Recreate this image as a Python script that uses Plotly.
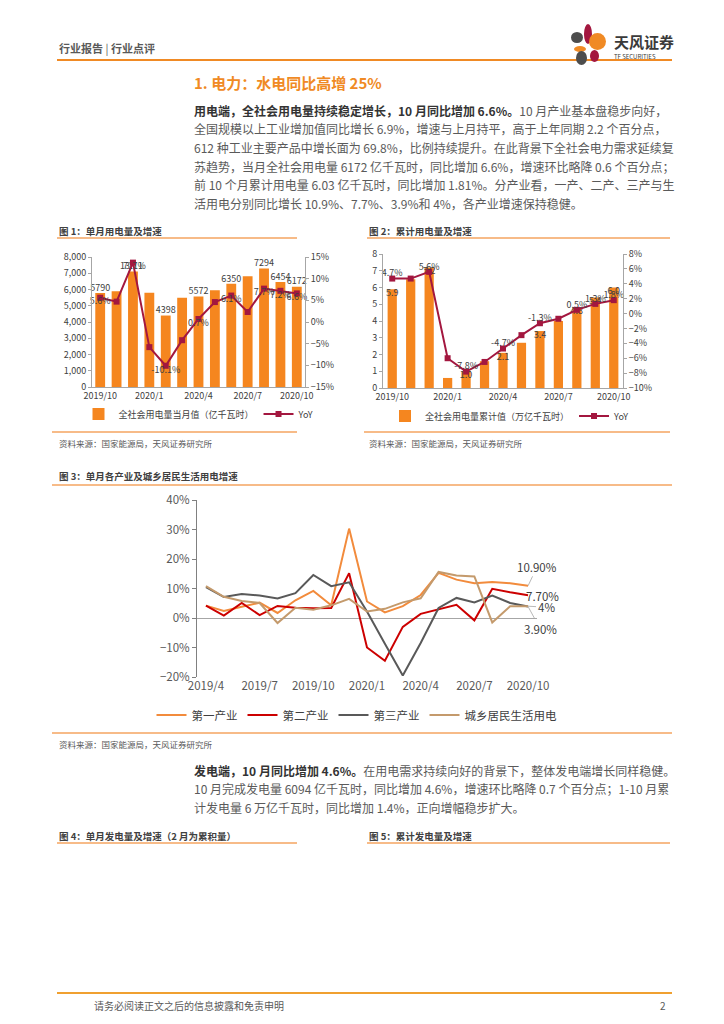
import plotly.graph_objects as go

W, H = 724, 1024
FONT = "Noto Sans CJK SC"
OFF = 8  # page body margin of the rendered html


def px(x):
    return (x - OFF) / W


def py(y):
    return 1 - (y - OFF) / H


# ---------------- data ----------------
# Figure 1: monthly electricity consumption
months1 = ["2019/10", "2019/11", "2019/12", "2020/1", "2020/2", "2020/3", "2020/4",
           "2020/5", "2020/6", "2020/7", "2020/8", "2020/9", "2020/10"]
monthly_use = [5790, 5900, 7111, 5800, 4398, 5500, 5572, 5950, 6350, 6820, 7294, 6454, 6172]
monthly_yoy = [5.6, 4.7, 13.7, -5.8, -10.1, -4.2, 0.7, 4.6, 6.1, 2.3, 7.7, 7.2, 6.6]
monthly_use_labels = ["5790", "", "7111", "", "4398", "", "5572", "", "6350", "", "7294", "6454", "6172"]
monthly_yoy_labels = ["5.6%", "", "13.7%", "", "-10.1%", "", "0.7%", "", "6.1%", "", "7.7%", "7.2%", "6.6%"]
ticks1 = ["2019/10", "2020/1", "2020/4", "2020/7", "2020/10"]

# Figure 2: cumulative electricity consumption
cum_use = [5.9, 6.5, 7.2, 0.6, 1.0, 1.6, 2.1, 2.7, 3.4, 4.0, 4.8, 5.4, 6.0]
cum_yoy = [4.7, 4.7, 5.6, -6.0, -7.8, -6.5, -4.7, -2.9, -1.3, -0.7, 0.5, 1.3, 1.8]
cum_use_labels = ["5.9", "", "7.2", "", "1.0", "", "2.1", "", "3.4", "", "4.8", "5.4", "6.0"]
cum_yoy_labels = ["4.7%", "", "5.6%", "", "-7.8%", "", "-4.7%", "", "-1.3%", "", "0.5%", "1.3%", "1.8%"]

# Figure 3: growth by sector
months3 = ["2019/4", "2019/5", "2019/6", "2019/7", "2019/8", "2019/9", "2019/10", "2019/11",
           "2019/12", "2020/1", "2020/2", "2020/3", "2020/4", "2020/5", "2020/6", "2020/7",
           "2020/8", "2020/9", "2020/10"]
primary = [4.2, 2.4, 3.8, 5.2, 1.7, 6.0, 9.2, 4.3, 30.3, 5.6, 1.9, 4.0, 7.8, 15.3, 13.0, 11.8, 12.2, 11.8, 10.9]
secondary = [4.2, 0.8, 5.1, 1.0, 4.1, 3.5, 3.3, 3.4, 15.2, -10.0, -14.5, -3.0, 1.4, 3.0, 4.5, -0.8, 9.9, 8.7, 7.7]
tertiary = [10.5, 7.1, 8.1, 7.6, 6.6, 8.4, 14.6, 10.8, 12.1, 2.2, -8.7, -19.5, -8.5, 3.4, 6.8, 5.3, 7.6, 5.1, 3.9]
residential = [10.8, 7.2, 5.8, 5.1, -1.7, 3.5, 2.8, 4.3, 6.5, 2.2, 3.1, 5.3, 6.7, 15.6, 14.4, 14.1, -1.5, 4.0, 4.0]
series3_names = ["第一产业", "第二产业", "第三产业", "城乡居民生活用电"]
ticks3 = ["2019/4", "2019/7", "2019/10", "2020/1", "2020/4", "2020/7", "2020/10"]

ORANGE = "#F5861F"
CRIMSON = "#A3173F"
TXT = "#404040"
GRAY = "#595959"
AXC = "#A6A6A6"
LINE_OR = "#F4A460"

fig = go.Figure()

# ---------- Figure 1 ----------
fig.add_trace(go.Bar(x=months1, y=monthly_use, name="全社会用电量当月值（亿千瓦时）",
                     marker=dict(color=ORANGE, line=dict(width=0)), width=0.6,
                     xaxis="x", yaxis="y", legend="legend"))
fig.add_trace(go.Scatter(x=months1, y=monthly_use, mode="text", text=monthly_use_labels,
                         textposition="top center", textfont=dict(family=FONT, size=9, color=TXT),
                         xaxis="x", yaxis="y", showlegend=False, cliponaxis=False, hoverinfo="skip"))
fig.add_trace(go.Scatter(x=months1, y=monthly_yoy, name="YoY", mode="lines+markers",
                         line=dict(color=CRIMSON, width=2),
                         marker=dict(symbol="square", size=6, color=CRIMSON),
                         xaxis="x", yaxis="y2", legend="legend"))
fig.add_trace(go.Scatter(x=months1, y=monthly_yoy, mode="text", text=monthly_yoy_labels,
                         textposition="bottom center", textfont=dict(family=FONT, size=9, color=TXT),
                         xaxis="x", yaxis="y2", showlegend=False, cliponaxis=False, hoverinfo="skip"))

# ---------- Figure 2 ----------
fig.add_trace(go.Bar(x=months1, y=cum_use, name="全社会用电量累计值（万亿千瓦时）",
                     marker=dict(color=ORANGE, line=dict(width=0)), width=0.5,
                     xaxis="x2", yaxis="y3", legend="legend2"))
fig.add_trace(go.Scatter(x=months1, y=cum_use, mode="text", text=cum_use_labels,
                         textposition="bottom center", textfont=dict(family=FONT, size=9, color=TXT),
                         xaxis="x2", yaxis="y3", showlegend=False, cliponaxis=False, hoverinfo="skip"))
fig.add_trace(go.Scatter(x=months1, y=cum_yoy, name="YoY", mode="lines+markers",
                         line=dict(color=CRIMSON, width=2),
                         marker=dict(symbol="square", size=6, color=CRIMSON),
                         xaxis="x2", yaxis="y4", legend="legend2"))
fig.add_trace(go.Scatter(x=months1, y=cum_yoy, mode="text", text=cum_yoy_labels,
                         textposition="top center", textfont=dict(family=FONT, size=9, color=TXT),
                         xaxis="x2", yaxis="y4", showlegend=False, cliponaxis=False, hoverinfo="skip"))

# ---------- Figure 3 ----------
colors3 = ["#F28B3C", "#CC0000", "#595959", "#C49A6C"]
for name, vals, col in zip(series3_names, [primary, secondary, tertiary, residential], colors3):
    fig.add_trace(go.Scatter(x=months3, y=vals, name=name, mode="lines",
                             line=dict(color=col, width=2),
                             xaxis="x3", yaxis="y5", legend="legend3"))

tickfont_s = dict(family=FONT, size=9, color=TXT)
tickfont_m = dict(family=FONT, size=11.5, color=GRAY)

fig.update_layout(
    width=W, height=H, autosize=False,
    margin=dict(l=0, r=0, t=0, b=0, pad=0, autoexpand=False),
    paper_bgcolor="white", plot_bgcolor="rgba(0,0,0,0)",
    font=dict(family=FONT, color=TXT),
    bargap=0.4,
    # fig 1
    xaxis=dict(domain=[px(92), px(305)], anchor="y", type="category", range=[-0.5, 12.5],
               tickvals=ticks1, ticktext=ticks1, showline=True, linecolor=AXC, linewidth=1,
               ticks="", showgrid=False, tickfont=tickfont_s, automargin=False),
    yaxis=dict(domain=[py(387), py(257)], anchor="x", range=[0, 8000], dtick=1000,
               tickformat=",", showline=True, linecolor=AXC, ticks="outside", ticklen=3,
               tickcolor=AXC, showgrid=False, zeroline=False, tickfont=tickfont_s, automargin=False),
    yaxis2=dict(overlaying="y", side="right", anchor="x", range=[-15, 15], dtick=5,
                ticksuffix="%", showline=True, linecolor=AXC, ticks="outside", ticklen=3,
                tickcolor=AXC, showgrid=False, zeroline=False, tickfont=tickfont_s, automargin=False),
    # fig 2
    xaxis2=dict(domain=[px(383), px(623)], anchor="y3", type="category", range=[-0.5, 12.5],
                tickvals=ticks1, ticktext=ticks1, showline=True, linecolor=AXC, linewidth=1,
                ticks="", showgrid=False, tickfont=tickfont_s, automargin=False),
    yaxis3=dict(domain=[py(388), py(254)], anchor="x2", range=[0, 8], dtick=1,
                showline=True, linecolor=AXC, ticks="outside", ticklen=3, tickcolor=AXC,
                showgrid=False, zeroline=False, tickfont=tickfont_s, automargin=False),
    yaxis4=dict(overlaying="y3", side="right", anchor="x2", range=[-10, 8], dtick=2,
                ticksuffix="%", showline=True, linecolor=AXC, ticks="outside", ticklen=3,
                tickcolor=AXC, showgrid=False, zeroline=False, tickfont=tickfont_s, automargin=False),
    # fig 3
    xaxis3=dict(domain=[px(197), px(537)], anchor="y5", type="category", range=[-0.5, 18.5],
                tickvals=ticks3, ticktext=ticks3, showline=False, ticks="", showgrid=False,
                tickfont=tickfont_m, automargin=False),
    yaxis5=dict(domain=[py(677), py(500)], anchor="x3", range=[-20, 40], dtick=10,
                ticksuffix="%", showline=True, linecolor="#808080", ticks="outside", ticklen=4,
                tickcolor="#808080", showgrid=False, zeroline=True, zerolinecolor="#A6A6A6",
                zerolinewidth=1, tickfont=tickfont_m, automargin=False),
    legend=dict(orientation="h", x=px(199), y=py(414), xanchor="center", yanchor="middle",
                font=dict(family=FONT, size=9, color=TXT), bgcolor="rgba(0,0,0,0)",
                itemwidth=30, tracegroupgap=0),
    legend2=dict(orientation="h", x=px(510), y=py(416), xanchor="center", yanchor="middle",
                 font=dict(family=FONT, size=9, color=TXT), bgcolor="rgba(0,0,0,0)",
                 itemwidth=30, tracegroupgap=0),
    legend3=dict(orientation="h", x=px(357), y=py(715), xanchor="center", yanchor="middle",
                 font=dict(family=FONT, size=11.5, color=TXT), bgcolor="rgba(0,0,0,0)",
                 itemwidth=30, tracegroupgap=0),
)

# ---------- page furniture ----------
shapes = []


def hline(x0, x1, y, color, width=1.5):
    shapes.append(dict(type="line", xref="paper", yref="paper", x0=px(x0), x1=px(x1),
                       y0=py(y), y1=py(y), line=dict(color=color, width=width)))


hline(57, 672, 60, "#F08A24", 2)          # header line
hline(57, 297, 238, LINE_OR, 1.5)         # fig1 caption line
hline(367, 670, 238, LINE_OR, 1.5)        # fig2 caption line
hline(52, 297, 432, LINE_OR, 1.5)         # fig1 source line
hline(364, 670, 432, LINE_OR, 1.5)        # fig2 source line
hline(52, 672, 485, LINE_OR, 1.5)         # fig3 caption line
hline(52, 672, 733, LINE_OR, 1.5)         # fig3 source line
hline(57, 297, 843, LINE_OR, 1.5)         # fig4 caption line
hline(367, 670, 843, LINE_OR, 1.5)        # fig5 caption line
hline(57, 672, 993, "#F0A030", 2)         # footer line


def ell(x0, y0, x1, y1, color):
    shapes.append(dict(type="circle", xref="paper", yref="paper", x0=px(x0), x1=px(x1),
                       y0=py(y1), y1=py(y0), fillcolor=color, line=dict(width=0)))


# logo petals
ell(584, 24, 592, 44, "#A3173F")
ell(571, 32, 583, 43, "#4D4D4D")
ell(589, 33, 606, 50, "#F08A24")
ell(574, 46, 586, 52, "#F08A24")
ell(576, 51, 587, 65, "#4D4D4D")
ell(590, 50, 599, 62, "#A3173F")

fig.update_layout(shapes=shapes)

ann = []


def txt(x, y, s, size, color=GRAY, anchor="left"):
    ann.append(dict(xref="paper", yref="paper", x=px(x), y=py(y), text=s, showarrow=False,
                    xanchor=anchor, yanchor="middle",
                    font=dict(family=FONT, size=size, color=color)))


txt(57, 48, "<b>行业报告</b> | <b>行业点评</b>", 11, GRAY)
txt(612, 41, "<b>天风证券</b>", 15, "#3A3A3A")
txt(612, 56, "TF SECURITIES", 6, "#3A3A3A")
txt(192, 82, "<b>1. 电力：水电同比高增 25%</b>", 15, "#F08A24")

body = [
    "<b><span style='color:#333333'>用电端，全社会用电量持续稳定增长，10 月同比增加 6.6%。</span></b>10 月产业基本盘稳步向好，",
    "全国规模以上工业增加值同比增长 6.9%，增速与上月持平，高于上年同期 2.2 个百分点，",
    "612 种工业主要产品中增长面为 69.8%，比例持续提升。在此背景下全社会电力需求延续复",
    "苏趋势，当月全社会用电量 6172 亿千瓦时，同比增加 6.6%，增速环比略降 0.6 个百分点；",
    "前 10 个月累计用电量 6.03 亿千瓦时，同比增加 1.81%。分产业看，一产、二产、三产与生",
    "活用电分别同比增长 10.9%、7.7%、3.9%和 4%，各产业增速保持稳健。",
]
for i, line in enumerate(body):
    txt(192, 110 + i * 18.7, line, 12, "#5A5A5A")

txt(57, 231, "<b>图 1：单月用电量及增速</b>", 9.5, TXT)
txt(367, 231, "<b>图 2：累计用电量及增速</b>", 9.5, TXT)
txt(57, 443, "资料来源：国家能源局，天风证券研究所", 8.5, GRAY)
txt(367, 443, "资料来源：国家能源局，天风证券研究所", 8.5, GRAY)
txt(57, 476, "<b>图 3：单月各产业及城乡居民生活用电增速</b>", 9.5, TXT)
txt(57, 744, "资料来源：国家能源局，天风证券研究所", 8.5, GRAY)

body2 = [
    "<b><span style='color:#333333'>发电端，10 月同比增加 4.6%。</span></b>在用电需求持续向好的背景下，整体发电端增长同样稳健。",
    "10 月完成发电量 6094 亿千瓦时，同比增加 4.6%，增速环比略降 0.7 个百分点；1-10 月累",
    "计发电量 6 万亿千瓦时，同比增加 1.4%，正向增幅稳步扩大。",
]
for i, line in enumerate(body2):
    txt(192, 770 + i * 18.7, line, 12, "#5A5A5A")

txt(57, 836, "<b>图 4：单月发电量及增速（2 月为累积量）</b>", 9.5, TXT)
txt(367, 836, "<b>图 5：累计发电量及增速</b>", 9.5, TXT)
txt(92, 1005, "请务必阅读正文之后的信息披露和免责申明", 10, GRAY)
txt(668, 1005, "2", 10, GRAY, anchor="right")

# end-of-line labels for figure 3
last = months3[-1]
end_labels = [
    (primary[-1], "10.90%", 9, -19),
    (secondary[-1], "7.70%", 14, 1),
    (residential[-1], "4%", 18, 1),
    (tertiary[-1], "3.90%", 12, 22),
]
for val, label, axo, ayo in end_labels:
    ann.append(dict(xref="x3", yref="y5", x=last, y=val, text=label, showarrow=True,
                    arrowhead=0, arrowwidth=0.8, arrowcolor="#A6A6A6", ax=axo, ay=ayo,
                    standoff=0, startstandoff=0,
                    font=dict(family=FONT, size=11.5, color=TXT)))

fig.update_layout(annotations=ann)

fig.write_html("out.html")
